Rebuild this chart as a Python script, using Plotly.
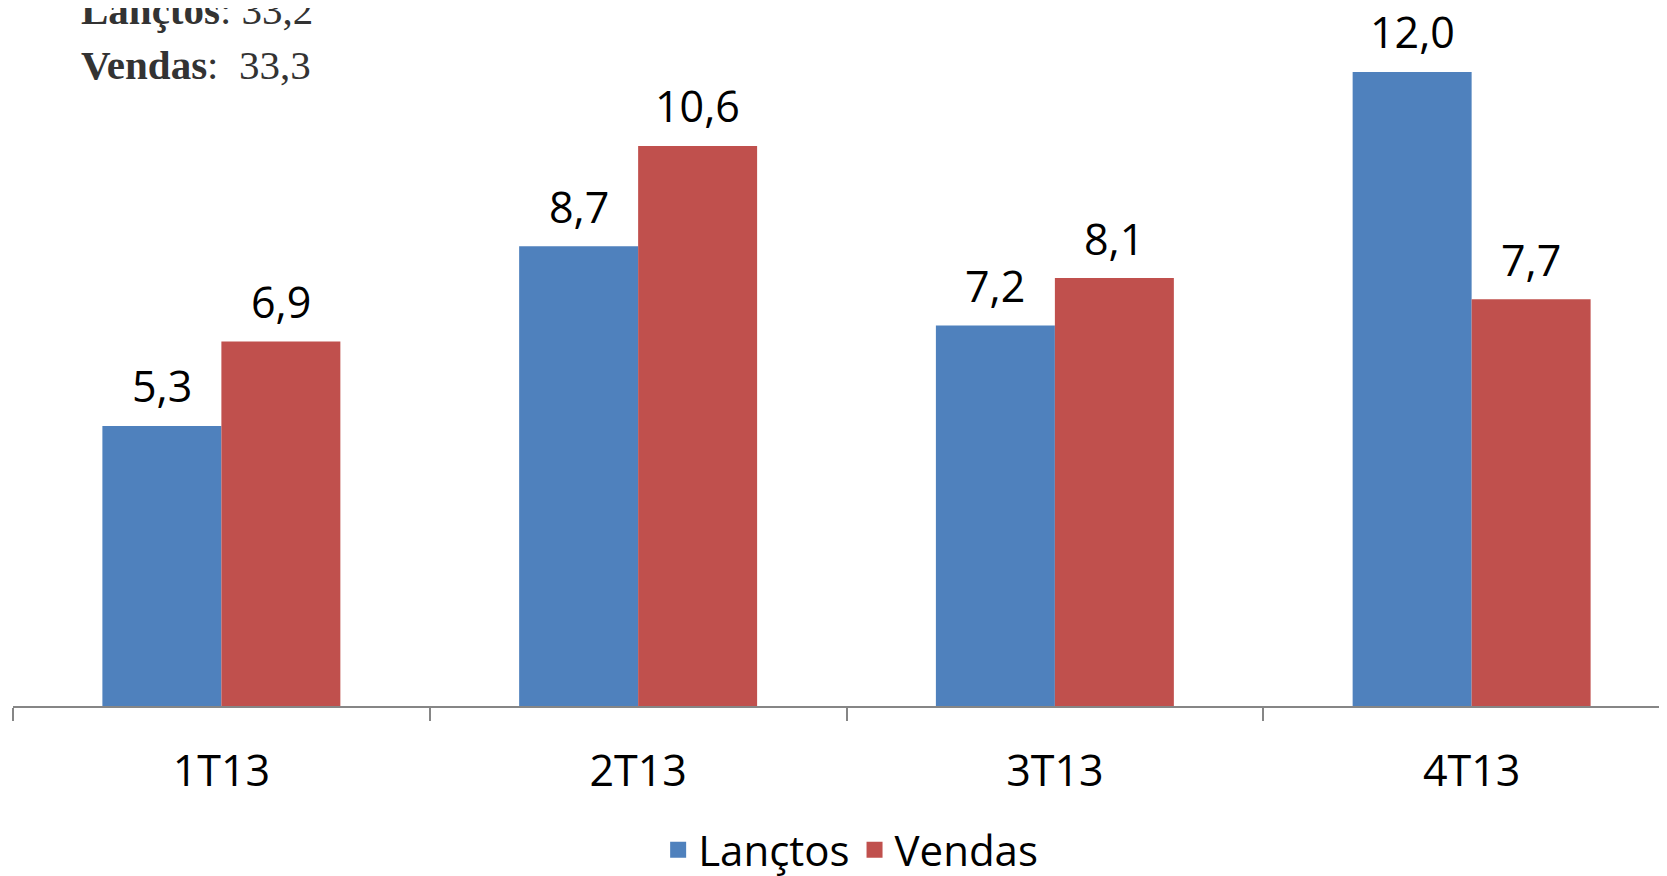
import plotly.graph_objects as go

quarters = ["1T13", "2T13", "3T13", "4T13"]
lanctos = [5.3, 8.7, 7.2, 12.0]
vendas = [6.9, 10.6, 8.1, 7.7]
total_lanctos = "33,2"
total_vendas = "33,3"

BLUE = "#4F81BD"
RED = "#C0504D"
LABEL_FONT = dict(family="Open Sans", size=43, color="#000000")
BARGAP = 0.429
CAT_PX = 416.7  # pixel width of one category

fig = go.Figure()
for name, vals, color in [("Lançtos", lanctos, BLUE), ("Vendas", vendas, RED)]:
    fig.add_trace(go.Bar(x=quarters, y=vals, name=name, marker=dict(color=color, line=dict(width=0)),
                         showlegend=False))
    # legend entry with a larger square
    fig.add_trace(go.Scatter(x=[None], y=[None], mode="markers", name=name,
                             marker=dict(symbol="square", size=16, color=color)))

# value labels above the bars
half = (1 - BARGAP) * CAT_PX / 4
for shift, vals in [(-half, lanctos), (half, vendas)]:
    for q, v in zip(quarters, vals):
        fig.add_annotation(x=q, y=v, text=f"{v:.1f}".replace(".", ","), showarrow=False,
                           xshift=shift, yshift=40, yanchor="middle", font=LABEL_FONT)

fig.add_annotation(text=f"<b>Lançtos</b>: {total_lanctos}", xref="paper", yref="paper", x=0.04, y=0.962,
                   xanchor="left", yanchor="bottom", showarrow=False,
                   font=dict(family="Liberation Serif", size=41, color="#333333"))
fig.add_annotation(text=f"<b>Vendas</b>:&nbsp; {total_vendas}", xref="paper", yref="paper", x=0.04, y=0.882,
                   xanchor="left", yanchor="bottom", showarrow=False,
                   font=dict(family="Liberation Serif", size=41, color="#333333"))

fig.update_layout(
    width=1667, height=876, margin=dict(l=5, r=0, t=0, b=169),
    paper_bgcolor="white", plot_bgcolor="white",
    barmode="group", bargap=BARGAP, bargroupgap=0,
    showlegend=True,
    legend=dict(orientation="h", x=0.504, xanchor="center", y=-0.2065, yanchor="middle",
                font=dict(family="Open Sans", size=42, color="#000000"), itemwidth=30),
    xaxis=dict(range=[-0.5, 3.488], showline=True, linecolor="#868686", linewidth=1.5,
               ticks="outside", tickson="boundaries", ticklen=13, tickcolor="#868686", tickwidth=1.5,
               tickfont=LABEL_FONT, ticklabelstandoff=27, showgrid=False, fixedrange=True),
    yaxis=dict(range=[0, 13.21], visible=False, showgrid=False, zeroline=False),
)

fig.write_html("out.html")
